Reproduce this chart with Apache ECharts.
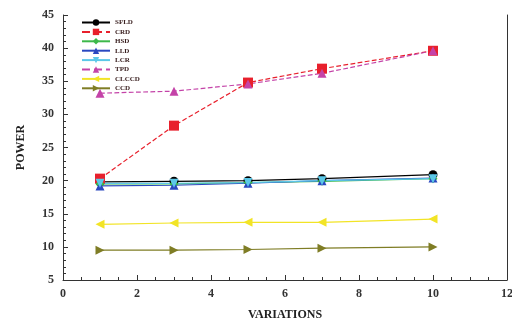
<!DOCTYPE html>
<html>
<head>
<meta charset="utf-8">
<script src="https://cdn.jsdelivr.net/npm/echarts@6/dist/echarts.min.js"></script>
<style>
  html, body { margin: 0; padding: 0; background: #fff; }
  #chart { width: 512px; height: 321px; }
</style>
</head>
<body>
<div id="chart"></div>
<script>
// x positions (variations)
const variations = [1, 3, 5, 7, 10]

// series values
const sfld = [19.8, 19.9, 20.0, 20.3, 20.9]
const crd = [20.3, 28.3, 34.8, 36.9, 39.6]
const hsd = [19.5, 19.5, 19.7, 19.9, 20.3]
const lld = [19.2, 19.3, 19.6, 20.0, 20.4]
const lcr = [19.6, 19.6, 19.7, 20.0, 20.3]
const tpd = [33.2, 33.5, 34.6, 36.2, 39.6]
const clccd = [13.4, 13.6, 13.7, 13.7, 14.2]
const ccd = [9.5, 9.5, 9.6, 9.8, 10.0]

const fontSerif = '"Liberation Serif", "DejaVu Serif", serif'

const pairs = (ys) => variations.map((x, i) => [x, ys[i]])

// name, data, colour, symbol, rotation, line type
const seriesDefs = [
	['SFLD', sfld, '#000000', 'circle', 0, 'solid'],
	['CRD', crd, '#e8202c', 'rect', 0, 'dashed'],
	['HSD', hsd, '#3db84a', 'diamond', 0, 'solid'],
	['LLD', lld, '#2a48c0', 'triangle', 0, 'solid'],
	['LCR', lcr, '#5cc8e8', 'triangle', 180, 'solid'],
	['TPD', tpd, '#c443a8', 'triangle', 0, 'dashed'],
	['CLCCD', clccd, '#f2e426', 'triangle', 90, 'solid'],
	['CCD', ccd, '#7f7d25', 'triangle', -90, 'solid'],
]

const chart = echarts.init(document.getElementById('chart'))

const option = {
	animation: false,
	backgroundColor: '#fff',
	grid: { left: 63, right: 5, top: 15, bottom: 41, containLabel: false, outerBoundsMode: 'none' },
	legend: {
		orient: 'vertical',
		left: 76,
		top: 14,
		itemGap: 2.4,
		itemWidth: 28,
		itemHeight: 8,
		textStyle: { fontFamily: fontSerif, fontWeight: 'bold', fontSize: 7, color: '#3a2020' },
		data: seriesDefs.map((d) => d[0]),
	},
	xAxis: {
		type: 'value',
		min: 0,
		max: 12,
		interval: 2,
		name: 'VARIATIONS',
		nameLocation: 'middle',
		nameGap: 29,
		nameTextStyle: { fontFamily: fontSerif, fontWeight: 'bold', fontSize: 12, color: '#222' },
		axisLine: { lineStyle: { color: '#333', width: 1 } },
		axisTick: { inside: true, length: 5, lineStyle: { color: '#333' } },
		minorTick: { show: true, splitNumber: 4, length: 3, lineStyle: { color: '#333' } },
		axisLabel: { fontFamily: fontSerif, fontWeight: 'bold', fontSize: 12, color: '#333', margin: 8 },
		splitLine: { show: false },
	},
	yAxis: [
		{
			type: 'value',
			min: 5,
			max: 45,
			interval: 5,
			name: 'POWER',
			nameLocation: 'middle',
			nameGap: 36,
			nameTextStyle: { fontFamily: fontSerif, fontWeight: 'bold', fontSize: 12, color: '#222' },
			axisLine: { show: true, lineStyle: { color: '#333', width: 1 } },
			axisTick: { inside: true, length: 5, lineStyle: { color: '#333' } },
			minorTick: { show: true, splitNumber: 5, length: 3, lineStyle: { color: '#333' } },
			axisLabel: { fontFamily: fontSerif, fontWeight: 'bold', fontSize: 12, color: '#333', margin: 9 },
			splitLine: { show: false },
		},
		{
			type: 'value',
			min: 5,
			max: 45,
			position: 'right',
			axisLine: { show: true, lineStyle: { color: '#333', width: 1 } },
			axisTick: { show: false },
			axisLabel: { show: false },
			splitLine: { show: false },
		},
	],
	series: seriesDefs.map(([name, ys, color, symbol, rot, type]) => ({
		name,
		type: 'line',
		data: pairs(ys),
		symbol,
		symbolRotate: rot,
		symbolSize: symbol === 'rect' ? 10 : 9,
		itemStyle: { color },
		lineStyle: { color, width: 1.2, type },
	})),
}

chart.setOption(option)
</script>
</body>
</html>
